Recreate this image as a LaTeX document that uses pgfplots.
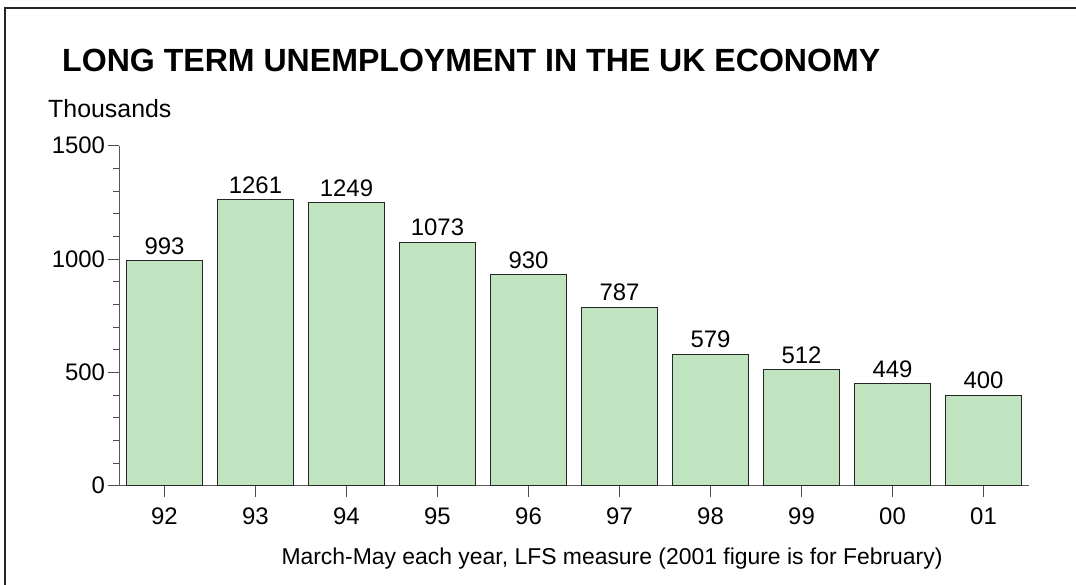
\documentclass[border=0pt]{standalone}
\usepackage{pgfplots}
\pgfplotsset{compat=1.18}
\usepackage{fontspec}
\setmainfont{Liberation Sans}
\definecolor{barfill}{RGB}{192,228,192}
\begin{document}
\begin{tikzpicture}
\useasboundingbox (0,0) rectangle (1076bp,-585bp);
\draw[line width=1.5bp, black!85] (5bp,-585bp) -- (5bp,-8bp) -- (1076bp,-8bp);
\node[anchor=base west, inner sep=0pt, font=\fontsize{32.2}{36}\selectfont\bfseries] at (62bp,-71bp) {LONG TERM UNEMPLOYMENT IN THE UK ECONOMY};
\node[anchor=base west, inner sep=0pt, font=\fontsize{25}{29}\selectfont] at (48bp,-117bp) {Thousands};
\begin{axis}[
  at={(119bp,-485.7bp)}, anchor=south west,
  scale only axis, width=910bp, height=340bp,
  xmin=-0.5, xmax=9.5, ymin=0, ymax=1500,
  axis x line*=bottom, axis y line*=left,
  axis line style={black!65, line width=1bp},
  ytick={0,500,1000,1500}, minor y tick num=4,
  xtick=data, xticklabels={92,93,94,95,96,97,98,99,00,01},
  tick align=outside, major tick length=11.5bp, minor tick length=6.5bp,
  tick style={black!70, line width=1bp},
  tick label style={font=\fontsize{24}{28}\selectfont},
  x tick label style={yshift=-7bp},
  y tick label style={xshift=1bp},
  /pgf/number format/assume math mode=true,
  /pgf/number format/1000 sep={},
  ybar, bar width=76bp,
  nodes near coords,
  every node near coord/.append style={font=\fontsize{24}{28}\selectfont, black, yshift=2.5bp},
]
\addplot[fill=barfill, draw=black!85, line width=1bp] coordinates {
(0,993) (1,1261) (2,1249) (3,1073) (4,930) (5,787) (6,579) (7,512) (8,449) (9,400)};
\end{axis}
\node[anchor=base, inner sep=0pt, font=\fontsize{23}{27}\selectfont] at (612bp,-564bp) {March-May each year, LFS measure (2001 figure is for February)};
\end{tikzpicture}
\end{document}
